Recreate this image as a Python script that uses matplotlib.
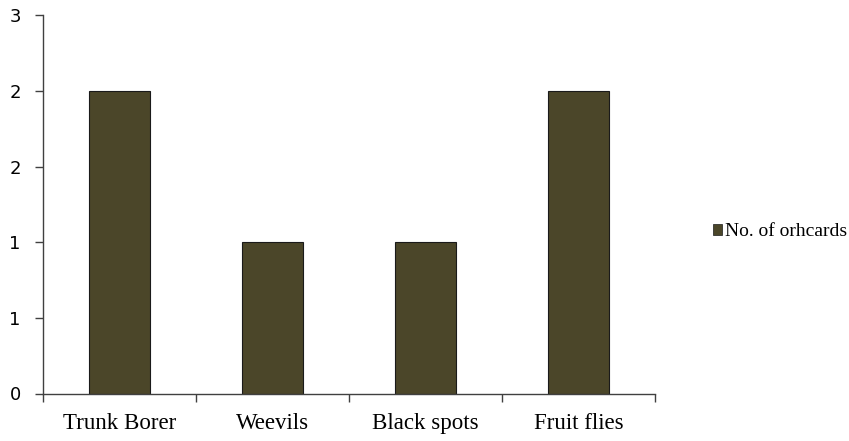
import numpy as np
import matplotlib.pyplot as plt
from matplotlib.patches import Patch

# pest counts per orchard problem
pests = ["Trunk Borer", "Weevils", "Black spots", "Fruit flies"]
orchards = [2, 1, 1, 2]
y_ticks = [0, 0.5, 1, 1.5, 2, 2.5]
y_tick_labels = ["0", "1", "1", "2", "2", "3"]

bar_color = "#4b4629"
axis_color = "#404040"

fig = plt.figure(figsize=(8.49, 4.41), dpi=100)
ax = fig.add_axes([43 / 849, 47.5 / 441, 612 / 849, 378 / 441])

x = np.arange(len(pests))
ax.bar(x, orchards, 0.4, color=bar_color, edgecolor="#1a1a1a", linewidth=0.8)

ax.set_xlim(-0.5, len(pests) - 0.5)
ax.set_ylim(0, 2.5)

ax.set_yticks(y_ticks)
ax.set_yticklabels(y_tick_labels, fontfamily="DejaVu Sans", fontsize=13)
ax.tick_params(axis="y", direction="out", length=6, width=1, color=axis_color, pad=10)

# category labels sit between the boundary ticks
ax.set_xticks(x)
ax.set_xticklabels(pests, fontfamily="Liberation Serif", fontsize=16.5)
ax.tick_params(axis="x", which="major", length=0, pad=14)
ax.set_xticks(np.arange(len(pests) + 1) - 0.5, minor=True)
ax.tick_params(axis="x", which="minor", direction="out", length=6, width=1, color=axis_color)

for side in ["top", "right"]:
    ax.spines[side].set_visible(False)
for side in ["left", "bottom"]:
    ax.spines[side].set_color(axis_color)
    ax.spines[side].set_linewidth(1)

handle = Patch(facecolor=bar_color, edgecolor="#1a1a1a", linewidth=0.5)
fig.legend([handle], ["No. of orhcards"], loc="center left",
           bbox_to_anchor=(713 / 849, 1 - 232 / 441), frameon=False,
           prop={"family": "Liberation Serif", "size": 14},
           handlelength=0.45, handleheight=0.45, handletextpad=0.15,
           borderpad=0, borderaxespad=0)

fig.savefig("out.png", dpi=100)
